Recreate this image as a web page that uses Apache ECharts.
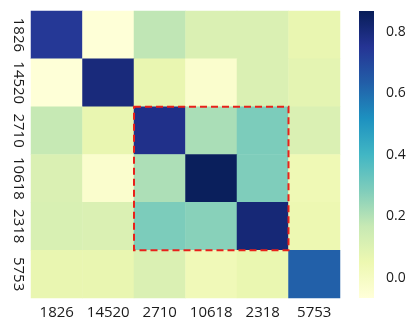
<!DOCTYPE html>
<html>
<head>
<meta charset="utf-8">
<script src="https://cdn.jsdelivr.net/npm/echarts@6/dist/echarts.min.js"></script>
<style>
  html, body { margin: 0; padding: 0; background: #fff; }
  #chart { width: 409px; height: 321px; }
</style>
</head>
<body>
<div id="chart"></div>
<script>
// Cluster labels (rows and columns share the same order)
const labels = ['1826', '14520', '2710', '10618', '2318', '5753'];

// Similarity matrix, one array per row
const row1826  = [0.74, -0.06, 0.18, 0.11, 0.11, 0.065];
const row14520 = [-0.06, 0.80, 0.065, -0.03, 0.11, 0.08];
const row2710  = [0.17, 0.065, 0.77, 0.215, 0.29, 0.11];
const row10618 = [0.11, -0.03, 0.21, 0.86, 0.285, 0.04];
const row2318  = [0.115, 0.11, 0.29, 0.27, 0.81, 0.05];
const row5753  = [0.065, 0.065, 0.11, 0.03, 0.06, 0.63];
const matrix = [row1826, row14520, row2710, row10618, row2318, row5753];

// Colour scale range and colour-bar ticks
const scaleMin = -0.065;
const scaleMax = 0.868;
const barTicks = [0.0, 0.2, 0.4, 0.6, 0.8];

// Highlighted block: first and last category index covered
const blockFrom = 2;
const blockTo = 4;

// YlGnBu palette, low to high
const ylGnBu = ['#ffffd9', '#edf8b1', '#c7e9b4', '#7fcdbb', '#41b6c4',
                '#1d91c0', '#225ea8', '#253494', '#081d58'];

const cells = [];
matrix.forEach((row, r) => row.forEach((v, c) => cells.push([c, r, v])));

const font = '"Open Sans", "DejaVu Sans", sans-serif';
const chart = echarts.init(document.getElementById('chart'), null, { renderer: 'canvas' });

chart.setOption({
  animation: false,
  backgroundColor: '#ffffff',
  grid: [
    { left: 31, top: 11, width: 309, height: 287 },
    { left: 359, top: 11, width: 15, height: 287 }
  ],
  xAxis: [
    {
      type: 'category', data: labels, gridIndex: 0,
      axisLine: { show: false }, axisTick: { show: false }, splitLine: { show: false },
      axisLabel: { interval: 0, color: '#1a1a1a', fontFamily: font, fontSize: 15, margin: 7 }
    },
    { type: 'value', gridIndex: 1, min: 0, max: 1, show: false }
  ],
  yAxis: [
    {
      type: 'category', data: labels, gridIndex: 0, inverse: true,
      axisLine: { show: false }, axisTick: { show: false }, splitLine: { show: false },
      axisLabel: { interval: 0, color: '#1a1a1a', fontFamily: font, fontSize: 15, rotate: -90, margin: 5 }
    },
    {
      type: 'value', gridIndex: 1, position: 'right', min: scaleMin, max: scaleMax,
      axisLine: { show: false }, splitLine: { show: false },
      axisTick: { show: true, length: 6, customValues: barTicks, lineStyle: { color: '#333' } },
      axisLabel: {
        customValues: barTicks, margin: 12, color: '#1a1a1a', fontFamily: font, fontSize: 14,
        formatter: v => v.toFixed(1)
      }
    }
  ],
  visualMap: {
    show: false, type: 'continuous', seriesIndex: 0, dimension: 2,
    min: scaleMin, max: scaleMax, inRange: { color: ylGnBu }
  },
  series: [
    {
      type: 'heatmap', xAxisIndex: 0, yAxisIndex: 0, data: cells,
      itemStyle: { borderWidth: 0 }, emphasis: { disabled: true }
    },
    {
      // dashed outline around the highlighted block of categories
      type: 'custom', xAxisIndex: 0, yAxisIndex: 0, silent: true, z: 5,
      data: [[blockFrom, blockFrom, blockTo, blockTo]],
      renderItem: (params, api) => {
        const size = api.size([1, 1]);
        const a = api.coord([api.value(0), api.value(1)]);
        const b = api.coord([api.value(2), api.value(3)]);
        const x0 = a[0] - size[0] / 2, y0 = a[1] - size[1] / 2;
        const x1 = b[0] + size[0] / 2, y1 = b[1] + size[1] / 2;
        return {
          type: 'rect',
          shape: { x: x0, y: y0, width: x1 - x0, height: y1 - y0 },
          style: { fill: null, stroke: '#e8211b', lineWidth: 2, lineDash: [7, 4] }
        };
      }
    },
    {
      // colour bar
      type: 'custom', xAxisIndex: 1, yAxisIndex: 1, silent: true,
      data: [[scaleMin, scaleMax]],
      renderItem: (params, api) => {
        const top = api.coord([0, api.value(1)]);
        const bottom = api.coord([1, api.value(0)]);
        const stops = ylGnBu.slice().reverse().map((c, i, arr) => ({ offset: i / (arr.length - 1), color: c }));
        return {
          type: 'rect',
          shape: { x: top[0], y: top[1], width: bottom[0] - top[0], height: bottom[1] - top[1] },
          style: { fill: new echarts.graphic.LinearGradient(0, 0, 0, 1, stops) }
        };
      }
    }
  ]
});
</script>
</body>
</html>
